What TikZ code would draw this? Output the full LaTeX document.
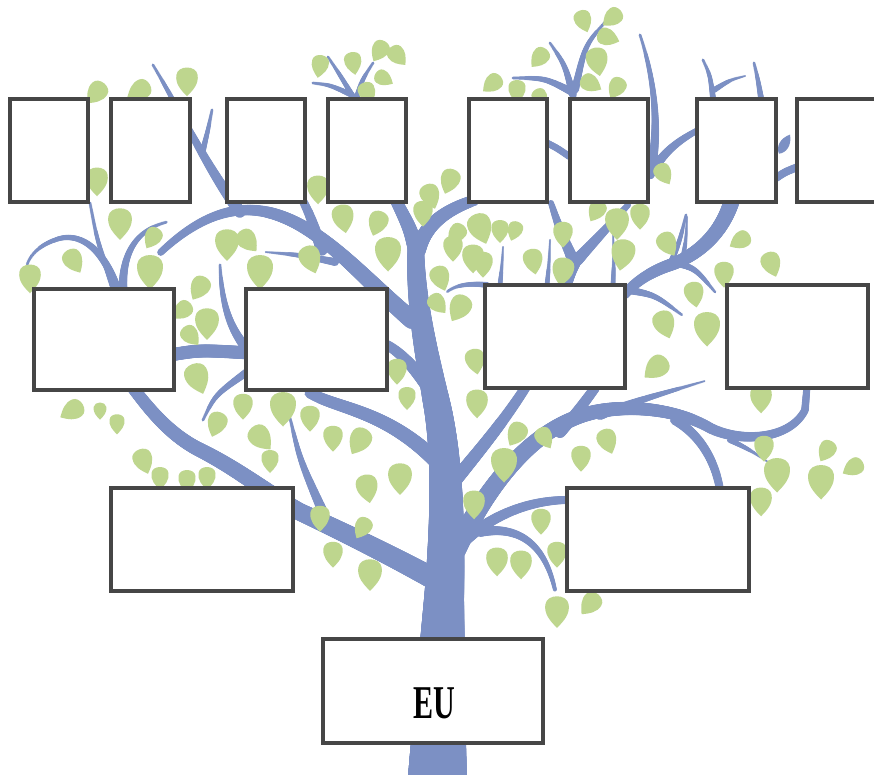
\documentclass[tikz,border=0pt]{standalone}
\usepackage{fontspec}
\usepackage{graphicx}
\setmainfont{Liberation Serif}
\usetikzlibrary{decorations.markings}
\definecolor{bc}{RGB}{124,144,196}
\definecolor{lc}{RGB}{190,214,142}
\definecolor{bx}{RGB}{70,70,70}
\tikzset{
  taper/.style 2 args={
    postaction={decorate, decoration={markings,
      mark=between positions 0 and 1 step 1pt with {
        \pgfmathsetmacro{\rr}{#1+(#2-#1)*\pgfkeysvalueof{/pgf/decoration/mark info/distance from start}/\pgfdecoratedpathlength}
        \fill[bc] (0,0) circle[radius=\rr pt];
      }}}
  },
  famb/.style={draw=bx, line width=3.2pt, fill=white, inner sep=0pt}
}
\newcommand{\leafat}[4]{\fill[lc,shift={(#1,#2)},rotate=#3,scale=1.25*#4] (0,13) .. controls (5,8) and (9.5,3) .. (8.5,-4) .. controls (7.5,-12) and (-7.5,-12) .. (-8.5,-4) .. controls (-9.5,3) and (-5,8) .. (0,13) -- cycle;}
\begin{document}
\begin{tikzpicture}[x=1pt,y=-1pt]
\useasboundingbox (0,0) rectangle (874,774);
\clip (0,0) rectangle (874,774);
\fill[white] (0,0) rectangle (874,774);

% ---------- trunk ----------
\path[taper={30}{20}] (437,790) .. controls (439,720) and (442,650) .. (444,600);
\path[taper={20}{8}] (444,600) .. controls (448,520) and (447,460) .. (438,410) .. controls (428,360) and (414,300) .. (416,240);
\path[taper={8}{5.5}] (416,250) .. controls (410,228) .. (393,195);
\path[taper={8}{5.5}] (418,250) .. controls (425,225) and (445,210) .. (475,200);

% ---------- upper left ----------
\path[taper={9}{3.5}] (412,320) .. controls (370,285) and (330,235) .. (283,217) .. controls (240,200) and (200,215) .. (160,253);
\path[taper={4}{6}] (300,195) .. controls (310,215) .. (322,250);
\path[taper={1.5}{6}] (153,65) .. controls (180,110) and (205,165) .. (240,212);
\path[taper={1.5}{3}] (212,110) .. controls (208,130) .. (203,150);
\path[taper={4}{1}] (335,262) .. controls (300,255) .. (265,252);
\path[taper={1.5}{3}] (90,203) .. controls (97,240) .. (113,287);
\path[taper={4.5}{1.5}] (117,290) .. controls (105,250) and (80,230) .. (55,240) .. controls (40,245) and (30,255) .. (27,265);
\path[taper={4.5}{1.5}] (123,290) .. controls (122,255) and (135,230) .. (167,222);
\path[taper={6.5}{6.5}] (170,355) .. controls (200,350) .. (250,353);
\path[taper={1.5}{5}] (220,265) .. controls (222,310) and (232,330) .. (246,348);
\path[taper={1.5}{4}] (203,420) .. controls (215,395) .. (247,372);
\path[taper={1.5}{3}] (328,57) .. controls (340,75) .. (355,100);
\path[taper={1.5}{3}] (313,83) .. controls (330,85) .. (352,95);
\path[taper={1.5}{3}] (373,63) .. controls (362,80) .. (356,100);

% ---------- lower left ----------
\path[taper={11}{6}] (445,585) .. controls (400,560) and (350,535) .. (300,512) .. controls (270,495) and (240,470) .. (200,450) .. controls (170,435) and (150,410) .. (133,388);
\path[taper={1.5}{5}] (290,418) .. controls (300,460) .. (322,510);
\path[taper={5.5}{8}] (310,393) .. controls (340,410) and (390,410) .. (445,470);
\path[taper={5}{7}] (387,345) .. controls (405,355) and (420,375) .. (437,400);

% ---------- upper right ----------
\path[taper={3}{6}] (551,203) .. controls (560,230) .. (574,262);
\path[taper={3}{6}] (628,205) .. controls (605,230) .. (577,260);
\path[taper={6}{6}] (575,262) .. controls (570,272) .. (564,290);
\path[taper={3.5}{3.5}] (547,143) .. controls (557,148) .. (570,157);
\path[taper={8}{5}] (732,200) .. controls (720,240) and (690,258) .. (670,265) .. controls (650,272) and (635,282) .. (624,295);
\path[taper={4}{1.5}] (672,262) .. controls (695,268) .. (715,292);
\path[taper={1.5}{3}] (686,215) .. controls (680,240) .. (672,260);
\path[taper={4}{1.5}] (628,290) .. controls (655,295) .. (682,315);
\path[taper={1.5}{5}] (640,35) .. controls (655,80) and (660,130) .. (650,175);
\path[taper={3}{5}] (698,130) .. controls (680,140) and (665,150) .. (652,172);
\path[taper={4}{4}] (776,178) .. controls (785,172) .. (800,166);
\path[taper={1.5}{3}] (703,60) .. controls (710,75) .. (713,98);
\path[taper={1.5}{3}] (754,63) .. controls (758,80) .. (761,98);
\path[taper={1}{3}] (745,76) .. controls (730,80) .. (714,90);
\path[taper={1.5}{4}] (550,43) .. controls (565,65) .. (573,95);
\path[taper={1.5}{4}] (607,20) .. controls (585,45) .. (575,90);
\path[taper={1.5}{4}] (513,78) .. controls (545,78) .. (572,92);
\path[taper={3}{1.5}] (487,285) .. controls (470,283) and (455,285) .. (447,292);
\path[taper={1}{2.5}] (503,247) .. controls (502,265) .. (500,285);
\path[taper={1}{2.5}] (550,240) .. controls (549,265) .. (547,285);
\path[taper={1}{2.5}] (613,233) .. controls (614,260) .. (613,285);
\path[taper={1}{2.5}] (687,217) .. controls (686,240) .. (683,257);
\fill[bc,shift={(784,145)},rotate=-30] (0,-12) .. controls (7,-4) and (6,6) .. (0,10) .. controls (-6,6) and (-7,-4) .. (0,-12) -- cycle;

% ---------- lower right ----------
\path[taper={7}{5}] (447,490) .. controls (480,450) and (505,420) .. (527,385);
\path[taper={10}{3.5}] (456,550) .. controls (480,500) and (520,440) .. (575,418) .. controls (620,400) and (680,410) .. (710,428) .. controls (740,443) and (790,440) .. (805,410) -- (807,386);
\path[taper={5}{1}] (600,415) .. controls (640,400) .. (705,381);
\path[taper={5}{4}] (675,420) .. controls (700,435) and (715,460) .. (720,490);
\path[taper={3}{1}] (730,440) .. controls (750,450) .. (768,462);
\path[taper={6}{5}] (560,432) .. controls (575,415) .. (595,388);
\path[taper={6}{4}] (460,545) .. controls (490,515) and (530,500) .. (568,500);
\path[taper={5}{2}] (480,532) .. controls (520,525) and (545,545) .. (555,590);

% ---------- leaves ----------
\leafat{380}{50}{-30}{0.8}\leafat{397}{55}{40}{0.8}\leafat{353}{62}{10}{0.8}
\leafat{320}{65}{-10}{0.8}\leafat{383}{78}{60}{0.7}\leafat{367}{92}{20}{0.8}
\leafat{187}{80}{0}{1.0}\leafat{140}{90}{-60}{0.9}\leafat{97}{92}{-40}{0.9}
\leafat{583}{20}{20}{0.8}\leafat{613}{17}{-50}{0.8}\leafat{540}{57}{-40}{0.8}
\leafat{597}{60}{10}{1.0}\leafat{607}{37}{70}{0.8}\leafat{493}{83}{-50}{0.8}
\leafat{517}{90}{0}{0.8}\leafat{540}{97}{30}{0.7}\leafat{590}{83}{60}{0.8}
\leafat{617}{87}{-30}{0.8}
\leafat{97}{180}{0}{1.0}\leafat{318}{188}{0}{1.0}\leafat{430}{195}{20}{0.9}
\leafat{450}{180}{-20}{0.9}\leafat{663}{173}{30}{0.8}
\leafat{120}{222}{0}{1.1}\leafat{153}{237}{-30}{0.8}\leafat{73}{260}{30}{0.9}
\leafat{30}{277}{0}{1.0}\leafat{150}{270}{0}{1.2}\leafat{227}{243}{0}{1.1}
\leafat{247}{240}{40}{0.9}\leafat{260}{270}{0}{1.2}\leafat{200}{287}{-30}{0.9}
\leafat{183}{310}{-50}{0.8}\leafat{207}{322}{0}{1.1}\leafat{190}{335}{40}{0.8}
\leafat{343}{217}{10}{1.0}\leafat{378}{222}{-20}{0.9}\leafat{388}{252}{0}{1.2}
\leafat{310}{258}{20}{1.0}\leafat{440}{277}{20}{0.9}\leafat{437}{303}{40}{0.8}
\leafat{460}{307}{-30}{1.0}\leafat{423}{212}{0}{0.9}\leafat{453}{247}{0}{0.9}
\leafat{483}{263}{0}{0.9}\leafat{480}{227}{20}{1.1}\leafat{500}{230}{0}{0.8}
\leafat{515}{230}{-20}{0.7}\leafat{533}{260}{10}{0.9}\leafat{563}{233}{0}{0.9}
\leafat{563}{270}{-10}{1.0}\leafat{457}{233}{-40}{0.8}\leafat{473}{257}{0}{1.0}
\leafat{597}{210}{-30}{0.8}\leafat{617}{222}{0}{1.1}\leafat{623}{253}{-10}{1.1}
\leafat{640}{215}{0}{0.9}\leafat{667}{243}{30}{0.9}\leafat{741}{240}{-60}{0.8}
\leafat{771}{263}{20}{0.9}\leafat{724}{273}{0}{0.9}\leafat{694}{293}{10}{0.9}
\leafat{197}{377}{20}{1.1}\leafat{397}{370}{0}{0.9}\leafat{407}{397}{0}{0.8}
\leafat{475}{360}{10}{0.9}\leafat{477}{402}{0}{1.0}\leafat{707}{327}{0}{1.2}
\leafat{664}{323}{20}{1.0}\leafat{657}{367}{-50}{1.0}\leafat{761}{397}{0}{1.0}
\leafat{73}{410}{-60}{0.9}\leafat{100}{410}{0}{0.6}\leafat{117}{423}{0}{0.7}
\leafat{143}{460}{20}{0.9}\leafat{160}{477}{0}{0.8}\leafat{187}{480}{0}{0.8}
\leafat{207}{477}{0}{0.8}\leafat{217}{423}{-20}{0.9}\leafat{243}{405}{0}{0.9}
\leafat{260}{437}{40}{1.0}\leafat{270}{460}{0}{0.8}\leafat{283}{407}{0}{1.2}
\leafat{310}{417}{0}{0.9}\leafat{333}{437}{0}{0.9}\leafat{360}{440}{-30}{1.0}
\leafat{367}{487}{10}{1.0}\leafat{400}{477}{0}{1.1}
\leafat{517}{433}{-30}{0.9}\leafat{544}{437}{30}{0.8}\leafat{504}{463}{0}{1.2}
\leafat{581}{457}{0}{0.9}\leafat{607}{440}{20}{0.9}\leafat{764}{447}{0}{0.9}
\leafat{777}{473}{0}{1.2}\leafat{827}{450}{-30}{0.8}\leafat{821}{480}{0}{1.2}
\leafat{854}{467}{-60}{0.8}
\leafat{320}{517}{0}{0.9}\leafat{333}{553}{0}{0.9}\leafat{363}{527}{-30}{0.8}
\leafat{370}{573}{0}{1.1}\leafat{474}{503}{0}{1.0}\leafat{541}{520}{0}{0.9}
\leafat{497}{560}{0}{1.0}\leafat{521}{563}{0}{1.0}\leafat{557}{553}{0}{0.9}
\leafat{557}{610}{0}{1.1}\leafat{591}{603}{-40}{0.9}\leafat{761}{500}{0}{1.0}

% ---------- boxes ----------
\node[famb, minimum width=78pt, minimum height=103pt] (t1) at (49,150.5) {};
\node[famb, minimum width=79pt, minimum height=103pt] (t2) at (150.5,150.5) {};
\node[famb, minimum width=78pt, minimum height=103pt] (t3) at (266,150.5) {};
\node[famb, minimum width=78pt, minimum height=103pt] (t4) at (367,150.5) {};
\node[famb, minimum width=78pt, minimum height=103pt] (t5) at (508,150.5) {};
\node[famb, minimum width=78pt, minimum height=103pt] (t6) at (609,150.5) {};
\node[famb, minimum width=79pt, minimum height=103pt] (t7) at (736.5,150.5) {};
\node[famb, minimum width=90pt, minimum height=103pt] (t8) at (842,150.5) {};
\node[famb, minimum width=140pt, minimum height=101pt] (r1) at (104,339.5) {};
\node[famb, minimum width=141pt, minimum height=101pt] (r2) at (316.5,339.5) {};
\node[famb, minimum width=140pt, minimum height=103pt] (r3) at (555,336.5) {};
\node[famb, minimum width=141pt, minimum height=103pt] (r4) at (797.5,336.5) {};
\node[famb, minimum width=182pt, minimum height=103pt] (s1) at (202,539.5) {};
\node[famb, minimum width=182pt, minimum height=103pt] (s2) at (658,539.5) {};
\node[famb, minimum width=220pt, minimum height=104pt] (eu) at (433,691) {};
\node[font=\fontsize{47}{47}\selectfont\bfseries, inner sep=0pt, anchor=base] (eutext) at (434,718) {\scalebox{0.64}[1]{EU}};
\end{tikzpicture}
\end{document}
